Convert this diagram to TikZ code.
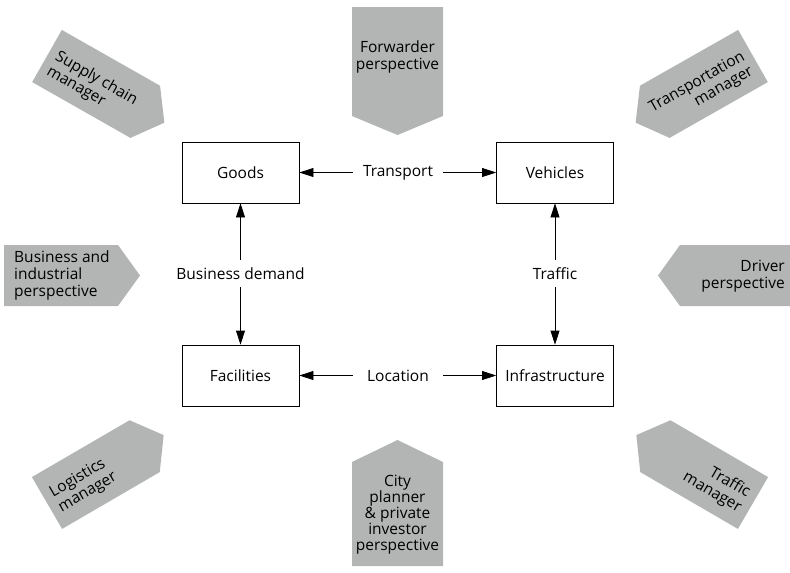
\documentclass[tikz,border=0pt]{standalone}
\usepackage{fontspec}
\setmainfont{Open Sans}
\usetikzlibrary{arrows.meta}
\definecolor{tagfill}{RGB}{179,181,181}
% pentagonal tag: back edge on the origin, body length #1, half height #2, tip at x = #3
\newcommand{\tagoutline}[3]{(0,-#2) -- (#1,-#2) -- (#3,0) -- (#1,#2) -- (0,#2) -- cycle}
\begin{document}
\begin{tikzpicture}[x=1pt,y=-1pt,
  font=\fontsize{15.5}{17}\selectfont,
  box/.style={draw, line width=0.8pt, minimum width=117pt, minimum height=61pt, inner sep=0pt},
  link/.style={minimum width=90pt, minimum height=27pt, inner sep=0pt},
  arr/.style={line width=0.8pt, -{Triangle[length=14pt,width=9pt]}},
  tag/.style={fill=tagfill},
  tagtext/.style={inner sep=0pt, transform shape}
]
\useasboundingbox (0,0) rectangle (790,573);

% four entities
\node[box] (goods)    at (240.5,172.5) {Goods};
\node[box] (vehicles) at (555,172.5)   {Vehicles};
\node[box] (facil)    at (240.5,375.5) {Facilities};
\node[box] (infra)    at (555,375.5)   {Infrastructure};

% relation labels
\node[link] (transport) at (398,172.5)   {Transport};
\node[link] (location)  at (398,375.5)   {Location};
\node[link] (demand)    at (240.5,273.5) {Business demand};
\node[link] (traffic)   at (555,273.5)   {Traffic};

\draw[arr] (transport) -- (goods);
\draw[arr] (transport) -- (vehicles);
\draw[arr] (location)  -- (facil);
\draw[arr] (location)  -- (infra);
\draw[arr] (demand)    -- (goods);
\draw[arr] (demand)    -- (facil);
\draw[arr] (traffic)   -- (vehicles);
\draw[arr] (traffic)   -- (infra);

% top and bottom perspectives
\fill[tag] (352,7) -- (443,7) -- (443,116) -- (397.5,135) -- (352,116) -- cycle;
\node[align=center, inner sep=0pt, font=\fontsize{15.5}{16.5}\selectfont] (fwd) at (397.5,57)
  {Forwarder\\perspective};

\fill[tag] (352,462) -- (397.5,440) -- (443,462) -- (443,566) -- (352,566) -- cycle;
\node[align=center, inner sep=0pt, font=\fontsize{15.5}{16}\selectfont] (city) at (397.5,515)
  {City\\planner\\\&\ private\\investor\\perspective};

% side perspectives
\begin{scope}[shift={(4,275.5)}]
  \fill[tag] \tagoutline{114}{30.5}{136};
  \node[tagtext, anchor=west, align=left] (business) at (10,0)
    {Business and\\industrial\\perspective};
\end{scope}
\begin{scope}[shift={(790,275.5)}]
  \fill[tag] \tagoutline{-110}{30.5}{-132};
  \node[tagtext, anchor=east, align=right] (driver) at (-5,1)
    {Driver\\perspective};
\end{scope}

% managers on the diagonals
\begin{scope}[shift={(47,56)}, rotate=-29.6]
  \fill[tag] \tagoutline{113}{30}{135};
  \node[tagtext, anchor=west, align=left] (supply) at (8,4)
    {Supply chain\\manager};
\end{scope}
\begin{scope}[shift={(753,56)}, rotate=29.6]
  \fill[tag] \tagoutline{-113}{30}{-135};
  \node[tagtext, anchor=east, align=right] (transpmgr) at (-8,4)
    {Transportation\\manager};
\end{scope}
\begin{scope}[shift={(47,503)}, rotate=30.2]
  \fill[tag] \tagoutline{113}{30}{135};
  \node[tagtext, anchor=west, align=left] (logistics) at (8,3)
    {Logistics\\manager};
\end{scope}
\begin{scope}[shift={(753,503)}, rotate=-30.2]
  \fill[tag] \tagoutline{-113}{30}{-135};
  \node[tagtext, anchor=east, align=right] (trafficmgr) at (-8,3)
    {Traffic\\manager};
\end{scope}
\end{tikzpicture}
\end{document}
